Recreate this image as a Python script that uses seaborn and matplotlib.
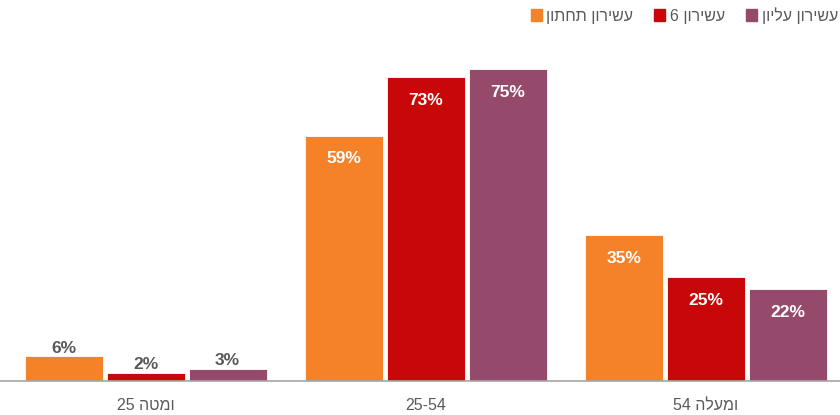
import re
import pandas as pd
import seaborn as sns
import matplotlib.pyplot as plt

# data
groups = ["ומטה 25", "25-54", "ומעלה 54"]
series = ["עשירון תחתון", "עשירון 6", "עשירון עליון"]
values = {
    "עשירון תחתון": [6, 59, 35],
    "עשירון 6": [2, 73, 25],
    "עשירון עליון": [3, 75, 22],
}
colors = ["#F58228", "#C80808", "#964A6B"]


def heb(s):
    # matplotlib has no bidi: flip hebrew text, keep digit runs in order
    if not re.search("[\u0590-\u05FF]", s):
        return s
    r = s[::-1]
    return re.sub(r"\d+", lambda m: m.group(0)[::-1], r)


rows = []
for s in series:
    for g, v in zip(groups, values[s]):
        rows.append({"group": heb(g), "series": heb(s), "value": v})
df = pd.DataFrame(rows)

sns.set_style("white")
plt.rcParams['font.family'] = ['Liberation Sans', 'DejaVu Sans']

fig = plt.figure(figsize=(8.4, 4.15), dpi=100)
ax = fig.add_axes([0, (415 - 381) / 415, 1, 381 / 415])

sns.barplot(data=df, x="group", y="value", hue="series",
            palette=colors, saturation=1, width=0.875, gap=0.045,
            edgecolor="white", linewidth=0.6, legend=False, ax=ax)

ax.set_xlim(-146 / 280, (840 - 146) / 280)
ax.set_ylim(0, 381 / 4.16)

# value labels
for cont in ax.containers:
    for bar in cont:
        h = bar.get_height()
        xc = bar.get_x() + bar.get_width() / 2
        if h > 15:
            ax.text(xc, h - 5.6, f"{h:.0f}%", ha="center", va="center",
                    color="white", fontsize=12.5, fontweight="bold")
        else:
            ax.text(xc, h + 0.1, f"{h:.0f}%", ha="center", va="bottom",
                    color="#595959", fontsize=12.5, fontweight="bold")

for sp in ["top", "left", "right"]:
    ax.spines[sp].set_visible(False)
ax.spines["bottom"].set_color("#A6A6A6")
ax.spines["bottom"].set_linewidth(1.2)
ax.set_yticks([])
ax.set_xlabel("")
ax.set_ylabel("")
ax.tick_params(axis="x", length=0, pad=12, labelsize=11.5, colors="#595959")

# legend
handles = [plt.Rectangle((0, 0), 1, 1, color=c) for c in colors]
leg = fig.legend(handles, [heb(s) for s in series], ncol=3,
                 loc="upper right", bbox_to_anchor=(0.998, 1 - 7 / 415),
                 frameon=False, fontsize=11.5, handlelength=0.7,
                 handleheight=0.7, handletextpad=0.3, columnspacing=1.3,
                 borderaxespad=0, borderpad=0)
for t in leg.get_texts():
    t.set_color("#595959")

fig.savefig("out.png", dpi=100)
